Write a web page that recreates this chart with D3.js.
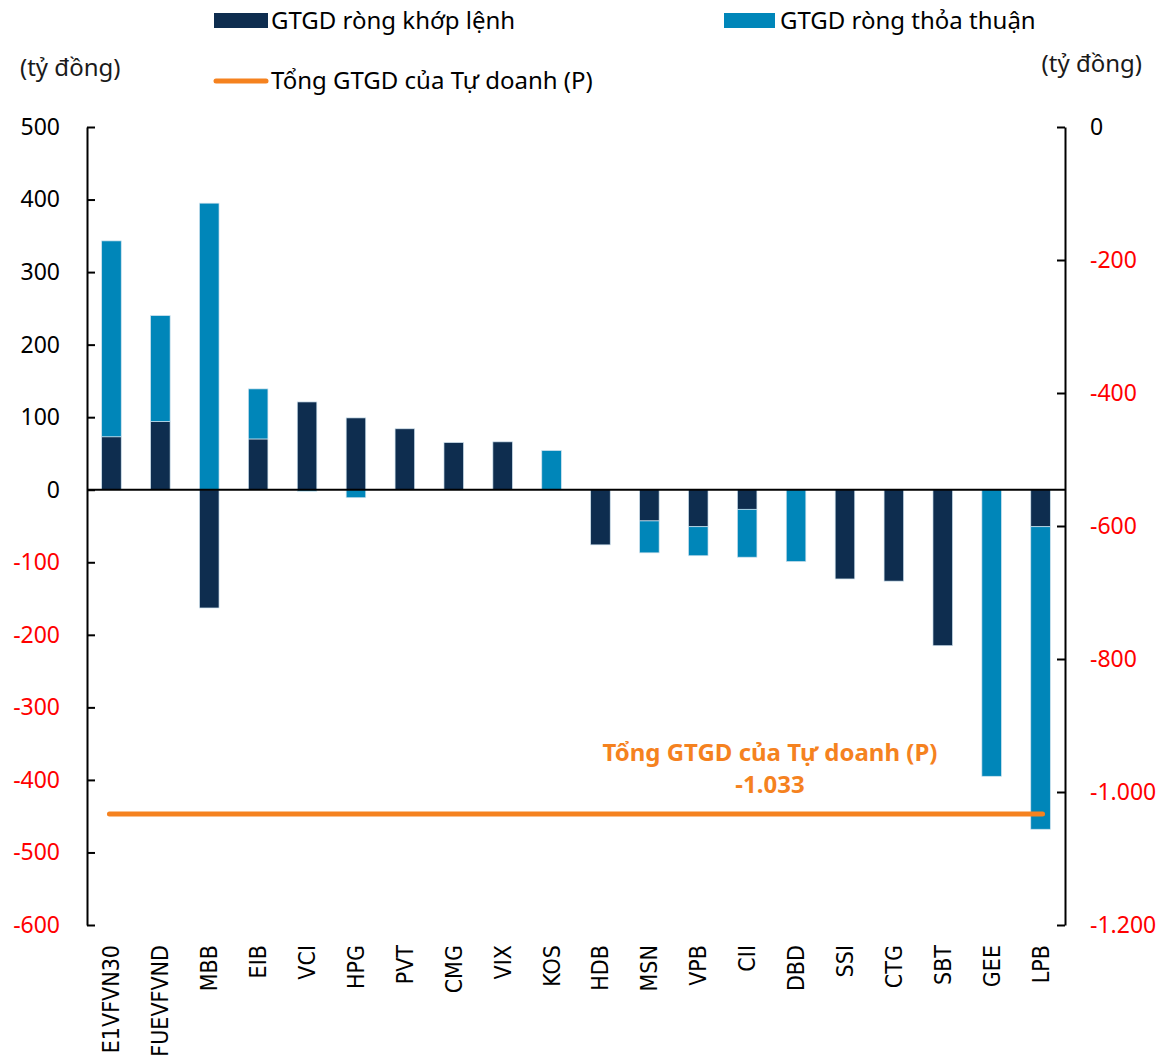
<!DOCTYPE html>
<html>
<head>
<meta charset="utf-8">
<script src="https://cdn.jsdelivr.net/npm/d3@7"></script>
<style>
  body { margin: 0; background: #fff; }
  svg { font-family: "Noto Sans", "Open Sans", sans-serif; }
</style>
</head>
<body>
<div id="chart"></div>
<script>
// categories and values (tỷ đồng)
var categories = ["E1VFVN30","FUEVFVND","MBB","EIB","VCI","HPG","PVT","CMG","VIX","KOS",
                  "HDB","MSN","VPB","CII","DBD","SSI","CTG","SBT","GEE","LPB"];
var khopLenh  = [73, 94, -163, 70, 121, 99, 84, 65, 66, 0, -76, -43, -51, -27, 0, -123, -126, -215, 0, -51];
var thoaThuan = [270, 146, 395, 69, -2, -11, 0, 0, 0, 54, 0, -44, -40, -66, -99, 0, 0, 0, -395, -417];
var tongTuDoanh = -1033;

var leftTicks  = [500, 400, 300, 200, 100, 0, -100, -200, -300, -400, -500, -600];
var rightTicks = [0, -200, -400, -600, -800, -1000, -1200];

var seriesNames = ["GTGD ròng khớp lệnh", "GTGD ròng thỏa thuận"];
var totalName = "Tổng GTGD của Tự doanh (P)";

var colors = ["#0e2d4f", "#0086b9"];
var orange = "#f5821f";

var W = 1165, H = 1060;
var plot = {left: 87, right: 1065, top: 127, bottom: 925};

var svg = d3.select("#chart").append("svg")
    .attr("width", W)
    .attr("height", H);

var x = d3.scaleBand()
    .domain(categories)
    .range([plot.left, plot.right])
    .paddingInner(0.6)
    .paddingOuter(0.3);

var y = d3.scaleLinear().domain([-600, 500]).range([plot.bottom, plot.top]);
var y2 = d3.scaleLinear().domain([-1200, 0]).range([plot.bottom, plot.top]);

// table for the stack
var rows = categories.map(function(c, i) {
  return {cat: c, khop: khopLenh[i], thoa: thoaThuan[i]};
});
var stack = d3.stack()
    .keys(["khop", "thoa"])
    .offset(d3.stackOffsetDiverging);
var stacked = stack(rows);

// vietnamese style: dot for thousands, plain hyphen for minus
var fmt = function(v) {
  return d3.format(",")(v).replace(/,/g, ".").replace("\u2212", "-");
};

// bars
svg.append("g").selectAll("g")
  .data(stacked)
  .enter().append("g")
    .attr("fill", function(d, i) { return colors[i]; })
  .selectAll("rect")
  .data(function(d) { return d; })
  .enter().append("rect")
    .attr("x", function(d) { return x(d.data.cat); })
    .attr("width", x.bandwidth())
    .attr("y", function(d) { return y(Math.max(d[0], d[1])); })
    .attr("height", function(d) { return Math.abs(y(d[0]) - y(d[1])); })
    .attr("stroke", "#cfe2ee")
    .attr("stroke-width", 0.7);

// zero line
svg.append("line")
  .attr("x1", plot.left).attr("x2", plot.right)
  .attr("y1", y(0)).attr("y2", y(0))
  .attr("stroke", "#000").attr("stroke-width", 2);

// left axis
var gl = svg.append("g")
  .attr("transform", "translate(" + plot.left + ",0)")
  .call(d3.axisLeft(y).tickValues(leftTicks).tickSizeInner(-8).tickSizeOuter(0).tickPadding(27).tickFormat(fmt));

// right axis
var gr = svg.append("g")
  .attr("transform", "translate(" + plot.right + ",0)")
  .call(d3.axisRight(y2).tickValues(rightTicks).tickSizeInner(-8).tickSizeOuter(0).tickPadding(25).tickFormat(fmt));

[gl, gr].forEach(function(g) {
  g.select(".domain").attr("stroke", "#000").attr("stroke-width", 2);
  g.selectAll(".tick line").attr("stroke", "#000").attr("stroke-width", 2);
  g.selectAll(".tick text")
    .attr("font-family", "Noto Sans")
    .attr("font-size", 23)
    .attr("fill", function(d) { return d < 0 ? "#ff0000" : "#000"; });
});

// category labels
svg.append("g").selectAll("text")
  .data(categories)
  .enter().append("text")
    .attr("transform", function(d) {
      return "translate(" + (x(d) + x.bandwidth() / 2) + ",945) rotate(-90)";
    })
    .attr("text-anchor", "end")
    .attr("dominant-baseline", "central")
    .attr("font-family", "DejaVu Sans Condensed, DejaVu Sans")
    .attr("font-stretch", "condensed")
    .attr("font-size", 23)
    .attr("fill", "#000")
    .text(function(d) { return d; });

// total line on right axis
var first = categories[0], last = categories[categories.length - 1];
svg.append("line")
  .attr("x1", x(first) + x.bandwidth() / 2 - 2)
  .attr("x2", x(last) + x.bandwidth() / 2 + 2)
  .attr("y1", y2(tongTuDoanh)).attr("y2", y2(tongTuDoanh))
  .attr("stroke", orange)
  .attr("stroke-width", 5)
  .attr("stroke-linecap", "round");

// annotation
var ann = svg.append("text")
  .attr("x", 770)
  .attr("text-anchor", "middle")
  .attr("fill", orange)
  .attr("font-weight", "bold")
  .attr("font-size", 24);
ann.append("tspan").attr("x", 770).attr("y", 761).text(totalName);
ann.append("tspan").attr("x", 770).attr("y", 793).text(fmt(tongTuDoanh));

// unit labels
svg.append("text").attr("x", 20).attr("y", 76)
  .attr("font-size", 24).attr("fill", "#1a1a1a").text("(tỷ đồng)");
svg.append("text").attr("x", 1142).attr("y", 72).attr("text-anchor", "end")
  .attr("font-size", 24).attr("fill", "#1a1a1a").text("(tỷ đồng)");

// legend
var legend = svg.append("g").attr("font-size", 24).attr("fill", "#000");
legend.append("rect").attr("x", 214).attr("y", 13).attr("width", 54).attr("height", 15).attr("fill", colors[0]);
legend.append("text").attr("x", 271).attr("y", 29).text(seriesNames[0]);
legend.append("rect").attr("x", 724).attr("y", 13).attr("width", 51).attr("height", 15).attr("fill", colors[1]);
legend.append("text").attr("x", 780).attr("y", 29).text(seriesNames[1]);
legend.append("line").attr("x1", 216).attr("x2", 266).attr("y1", 81).attr("y2", 81)
  .attr("stroke", orange).attr("stroke-width", 5).attr("stroke-linecap", "round");
legend.append("text").attr("x", 271).attr("y", 89).text(totalName);
</script>
</body>
</html>
